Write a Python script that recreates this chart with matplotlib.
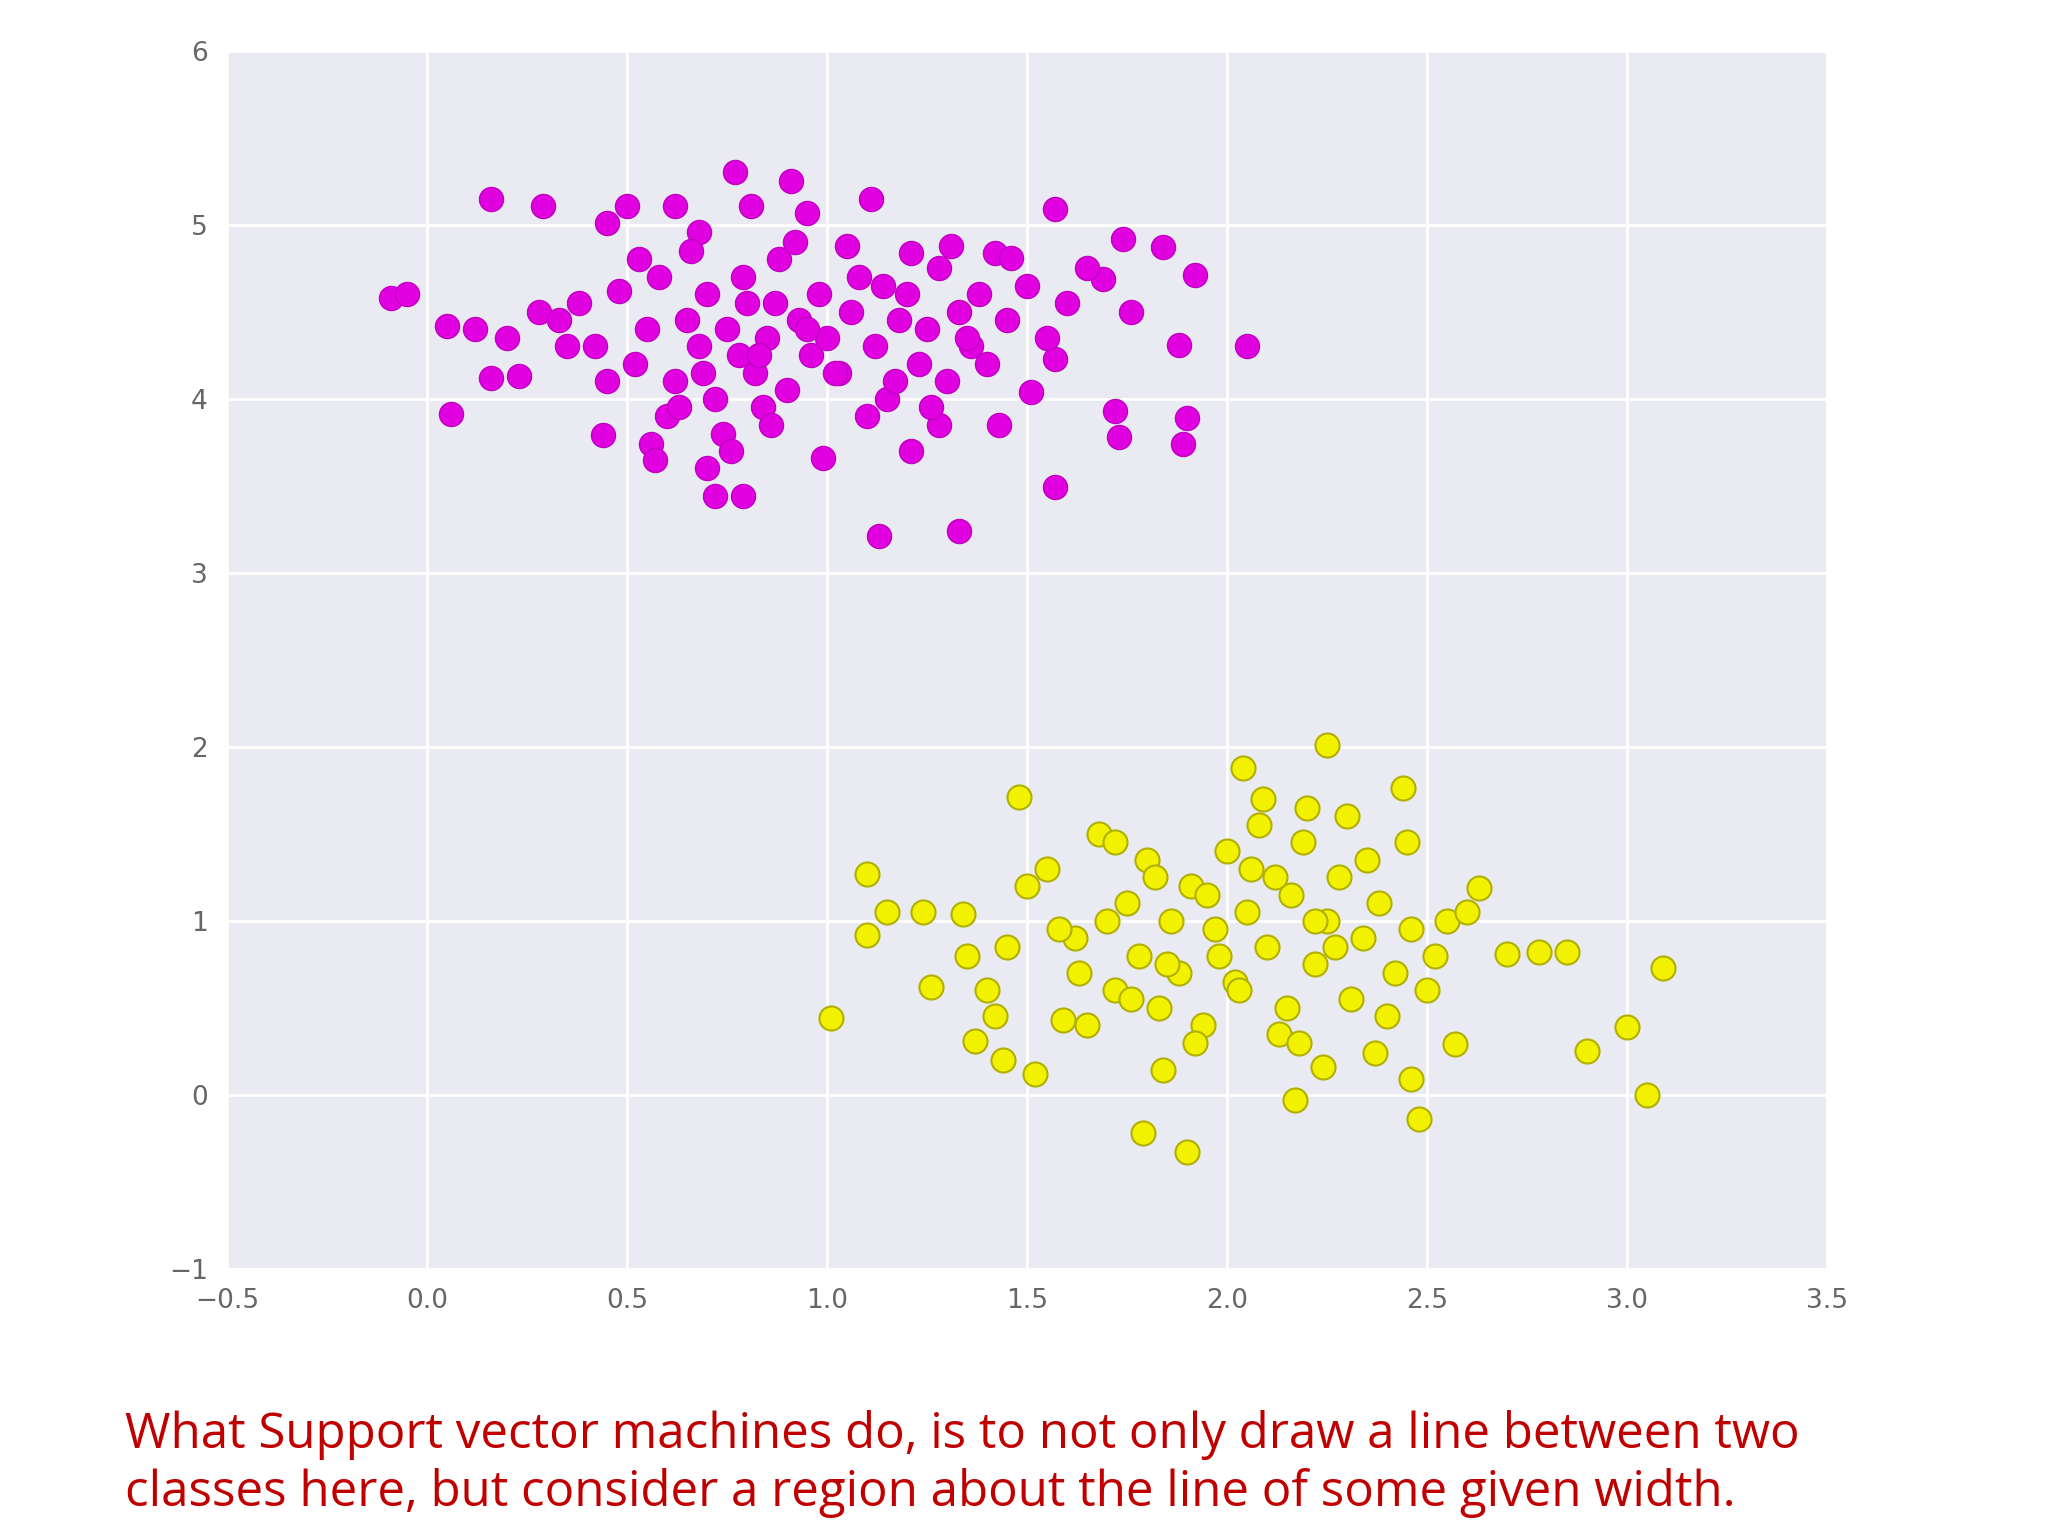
import matplotlib
matplotlib.use("Agg")
import matplotlib.pyplot as plt

# class A (magenta)
mag_x = [0.16, 0.29, -0.09, -0.05, 0.06, 0.05, 0.16, 0.23, 0.44, 0.56, 0.72, 0.79, 0.77, 0.91,
         1.11, 1.13, 1.33, 1.57, 1.57, 1.74, 1.84, 1.92, 2.05, 1.88, 1.90, 1.89, 1.72, 1.73,
         1.76, 1.69, 1.57, 1.51, 1.43, 1.28, 1.21, 0.99, 0.45, 0.50, 0.62, 0.68, 0.81, 0.95,
         1.05, 1.21, 1.31, 1.42, 1.46,
         0.12, 0.20, 0.28, 0.33, 0.38, 0.42, 0.48, 0.52, 0.55, 0.58, 0.62, 0.65, 0.68, 0.70,
         0.72, 0.75, 0.78, 0.80, 0.82, 0.85, 0.88, 0.90, 0.93, 0.96, 0.98, 1.00, 1.03, 1.06,
         1.08, 1.12, 1.15, 1.18, 1.20, 1.23, 1.25, 1.28, 1.30, 1.33, 1.36, 1.38, 1.40, 1.45,
         1.50, 1.55, 1.60, 1.65, 0.60, 0.66, 0.74, 0.79, 0.84, 0.70, 0.63, 0.87, 1.10, 1.17,
         0.35, 0.45, 0.53, 0.57, 0.86, 0.92, 1.02, 1.14, 1.26, 0.76, 0.69, 0.83, 0.95, 1.35]
mag_y = [5.15, 5.11, 4.58, 4.60, 3.91, 4.42, 4.12, 4.13, 3.79, 3.74, 3.44, 3.44, 5.30, 5.25,
         5.15, 3.21, 3.24, 3.49, 5.09, 4.92, 4.87, 4.71, 4.30, 4.31, 3.89, 3.74, 3.93, 3.78,
         4.50, 4.69, 4.23, 4.04, 3.85, 3.85, 3.70, 3.66, 5.01, 5.11, 5.11, 4.96, 5.11, 5.07,
         4.88, 4.84, 4.88, 4.84, 4.81,
         4.40, 4.35, 4.50, 4.45, 4.55, 4.30, 4.62, 4.20, 4.40, 4.70, 4.10, 4.45, 4.30, 4.60,
         4.00, 4.40, 4.25, 4.55, 4.15, 4.35, 4.80, 4.05, 4.45, 4.25, 4.60, 4.35, 4.15, 4.50,
         4.70, 4.30, 4.00, 4.45, 4.60, 4.20, 4.40, 4.75, 4.10, 4.50, 4.30, 4.60, 4.20, 4.45,
         4.65, 4.35, 4.55, 4.75, 3.90, 4.85, 3.80, 4.70, 3.95, 3.60, 3.95, 4.55, 3.90, 4.10,
         4.30, 4.10, 4.80, 3.65, 3.85, 4.90, 4.15, 4.65, 3.95, 3.70, 4.15, 4.25, 4.40, 4.35]

# class B (yellow)
yel_x = [2.25, 2.04, 2.44, 1.48, 1.10, 1.10, 1.01, 1.26, 1.52, 1.79, 1.90, 2.17, 2.48, 2.46,
         3.05, 2.90, 3.00, 3.09, 2.85, 2.78, 2.70, 2.63, 2.57, 2.37, 2.24, 1.84, 1.34, 1.24,
         1.15, 1.59, 1.44, 1.37,
         1.55, 1.62, 1.68, 1.72, 1.75, 1.78, 1.80, 1.83, 1.86, 1.88, 1.91, 1.94, 1.97, 2.00,
         2.02, 2.05, 2.08, 2.10, 2.13, 2.16, 2.19, 2.22, 2.25, 2.28, 2.31, 2.34, 2.38, 2.42,
         2.46, 2.50, 2.55, 1.40, 1.45, 1.50, 1.65, 1.70, 1.76, 1.82, 1.92, 1.98, 2.06, 2.15,
         2.20, 2.27, 2.35, 2.40, 2.52, 2.60, 1.58, 1.85, 1.95, 2.12, 2.30, 1.72, 2.03, 2.18,
         1.42, 1.35, 1.63, 2.09, 2.22, 2.45]
yel_y = [2.01, 1.88, 1.76, 1.71, 1.27, 0.92, 0.44, 0.62, 0.12, -0.22, -0.33, -0.03, -0.14, 0.09,
         0.00, 0.25, 0.39, 0.73, 0.82, 0.82, 0.81, 1.19, 0.29, 0.24, 0.16, 0.14, 1.04, 1.05,
         1.05, 0.43, 0.20, 0.31,
         1.30, 0.90, 1.50, 0.60, 1.10, 0.80, 1.35, 0.50, 1.00, 0.70, 1.20, 0.40, 0.95, 1.40,
         0.65, 1.05, 1.55, 0.85, 0.35, 1.15, 1.45, 0.75, 1.00, 1.25, 0.55, 0.90, 1.10, 0.70,
         0.95, 0.60, 1.00, 0.60, 0.85, 1.20, 0.40, 1.00, 0.55, 1.25, 0.30, 0.80, 1.30, 0.50,
         1.65, 0.85, 1.35, 0.45, 0.80, 1.05, 0.95, 0.75, 1.15, 1.25, 1.60, 1.45, 0.60, 0.30,
         0.45, 0.80, 0.70, 1.70, 1.00, 1.45]

x_ticks = [-0.5, 0.0, 0.5, 1.0, 1.5, 2.0, 2.5, 3.0, 3.5]
y_ticks = [-1, 0, 1, 2, 3, 4, 5, 6]
caption = ("What Support vector machines do, is to not only draw a line between two\n"
           "classes here, but consider a region about the line of some given width.")

fig = plt.figure(figsize=(20.48, 15.36), dpi=100)
ax = fig.add_axes([0.111, 0.174, 0.781, 0.793])
ax.set_facecolor("#EAEAF2")
ax.grid(True, color="white", linewidth=2)
ax.set_axisbelow(True)
for s in ax.spines.values():
    s.set_visible(False)

ax.scatter(mag_x, mag_y, s=300, c="#E000E0", edgecolors="#C000C0", linewidths=1)
ax.scatter(yel_x, yel_y, s=300, c="#F2F200", edgecolors="#B0B000", linewidths=1.5)

ax.set_xlim(-0.5, 3.5)
ax.set_ylim(-1, 6)
ax.set_xticks(x_ticks)
ax.set_yticks(y_ticks)
ax.set_xticklabels(["\u22120.5", "0.0", "0.5", "1.0", "1.5", "2.0", "2.5", "3.0", "3.5"])
ax.set_yticklabels(["\u22121", "0", "1", "2", "3", "4", "5", "6"])
ax.tick_params(length=0, labelsize=19, labelcolor="#666666", pad=14)

fig.text(0.061, 0.012, caption, color="#C00000", fontsize=35.5, family="Open Sans",
         ha="left", va="bottom", linespacing=1.2)

fig.savefig("out.png")
